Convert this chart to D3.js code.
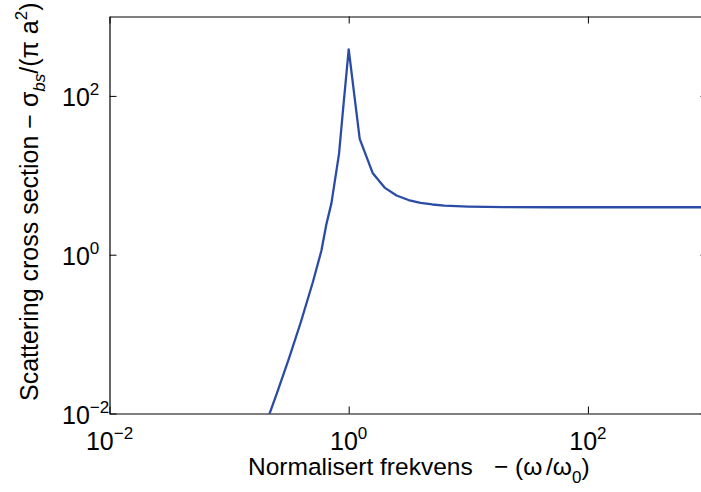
<!DOCTYPE html>
<html>
<head>
<meta charset="utf-8">
<script src="https://cdn.jsdelivr.net/npm/d3@7"></script>
<style>
    body { margin: 0; background: #fff; }
    text { font-family: "Liberation Sans", Arial, Helvetica, sans-serif; fill: #000; }
</style>
</head>
<body>
<div id="chart"></div>
<script>
// Normalised frequency (omega / omega_0) and backscatter cross section
const freq = [0.1995, 0.2512, 0.3162, 0.3981, 0.5012, 0.591, 0.65, 0.716, 0.83, 0.895, 1,
    1.236, 1.585, 1.995, 2.512, 3.162, 3.981, 5.012, 6.31, 7.943, 10, 20, 50, 100, 200, 500, 1000];
const sigma = [0.0069, 0.018, 0.049, 0.142, 0.45, 1.12, 2.4, 4.4, 18.6, 65, 385,
    28.8, 10.7, 7.0, 5.57, 4.88, 4.5, 4.29, 4.16, 4.09, 4.04, 3.97, 3.96, 3.96, 3.96, 3.96, 3.96];

// Tick values and their exponent labels
const xTicks = [1e-2, 1e0, 1e2];
const yTicks = [1e-2, 1e0, 1e2];
const tickExponents = ["\u22122", "0", "2"];

const width = 701;
const height = 492;
const marginLeft = 109.5;
const marginTop = 16.5;
const plotBottom = 413.5;
const plotRight = 707.5; // the right edge of the box falls just outside the picture

const x = d3.scaleLog().domain([1e-2, 1e3]).range([marginLeft, plotRight]);
const y = d3.scaleLog().domain([1e-2, 1e3]).range([plotBottom, marginTop]);

const svg = d3.select("#chart").append("svg")
    .attr("width", width)
    .attr("height", height)
    .attr("viewBox", [0, 0, width, height]);

// Clip the curve to the axes box
svg.append("clipPath")
    .attr("id", "plot-clip")
    .append("rect")
    .attr("x", marginLeft)
    .attr("y", marginTop)
    .attr("width", plotRight - marginLeft)
    .attr("height", plotBottom - marginTop);

const data = freq.map((f, i) => ({f: f, s: sigma[i]}));

const line = d3.line()
    .x(d => x(d.f))
    .y(d => y(d.s));

svg.append("path")
    .datum(data)
    .attr("clip-path", "url(#plot-clip)")
    .attr("fill", "none")
    .attr("stroke", "#2b4ca6")
    .attr("stroke-width", 2.3)
    .attr("stroke-linejoin", "round")
    .attr("d", line);

// Box with inward ticks (matlab style)
const tickLen = 7;
function styleAxis(g) {
    g.selectAll("text").remove();
    g.select(".domain").attr("stroke", "#000").attr("stroke-width", 1.2);
    g.selectAll(".tick line").attr("stroke", "#000").attr("stroke-width", 1);
}

svg.append("g")
    .attr("transform", `translate(0,${plotBottom})`)
    .call(d3.axisBottom(x).tickValues(xTicks).tickSizeInner(-tickLen).tickSizeOuter(0))
    .call(styleAxis);

svg.append("g")
    .attr("transform", `translate(0,${marginTop})`)
    .call(d3.axisTop(x).tickValues(xTicks).tickSizeInner(-tickLen).tickSizeOuter(0))
    .call(styleAxis);

svg.append("g")
    .attr("transform", `translate(${marginLeft},0)`)
    .call(d3.axisLeft(y).tickValues(yTicks).tickSizeInner(-tickLen).tickSizeOuter(0))
    .call(styleAxis);

svg.append("g")
    .attr("transform", `translate(${plotRight},0)`)
    .call(d3.axisRight(y).tickValues(yTicks).tickSizeInner(-tickLen).tickSizeOuter(0))
    .call(styleAxis);

// Tick labels as 10 with a superscript exponent
const xLabels = svg.append("g");
xTicks.forEach((t, i) => {
    const label = xLabels.append("text")
        .attr("x", x(t))
        .attr("y", 450)
        .attr("text-anchor", "middle")
        .attr("font-size", 25);
    label.append("tspan").text("10");
    label.append("tspan").attr("font-size", 17).attr("dy", -11).text(tickExponents[i]);
});

const yLabels = svg.append("g");
yTicks.forEach((t, i) => {
    const label = yLabels.append("text")
        .attr("x", 62)
        .attr("y", y(t) + 10)
        .attr("font-size", 25);
    label.append("tspan").text("10");
    label.append("tspan").attr("font-size", 17).attr("dy", -11).text(tickExponents[i]);
});

// x axis title
const xTitle = svg.append("text")
    .attr("y", 475)
    .attr("font-size", 24.5);
xTitle.append("tspan").attr("x", 248).text("Normalisert frekvens");
xTitle.append("tspan").attr("x", 494).text("\u2212");
xTitle.append("tspan").attr("x", 515).text("(\u03c9");
xTitle.append("tspan").attr("x", 546).text("/\u03c9");
xTitle.append("tspan").attr("font-size", 17).attr("dy", 8).text("0");
xTitle.append("tspan").attr("dy", -8).text(")");

// y axis title
const yTitle = svg.append("text")
    .attr("transform", "translate(37.5,401) rotate(-90)")
    .attr("font-size", 25);
yTitle.append("tspan").text("Scattering cross section \u2212 \u03c3");
yTitle.append("tspan").attr("font-size", 17).attr("font-style", "italic").attr("dy", 7).text("bs");
yTitle.append("tspan").attr("dy", -7).text("/(\u03c0 a");
yTitle.append("tspan").attr("font-size", 17).attr("dy", -11).text("2");
yTitle.append("tspan").attr("dy", 11).text(")");
</script>
</body>
</html>
